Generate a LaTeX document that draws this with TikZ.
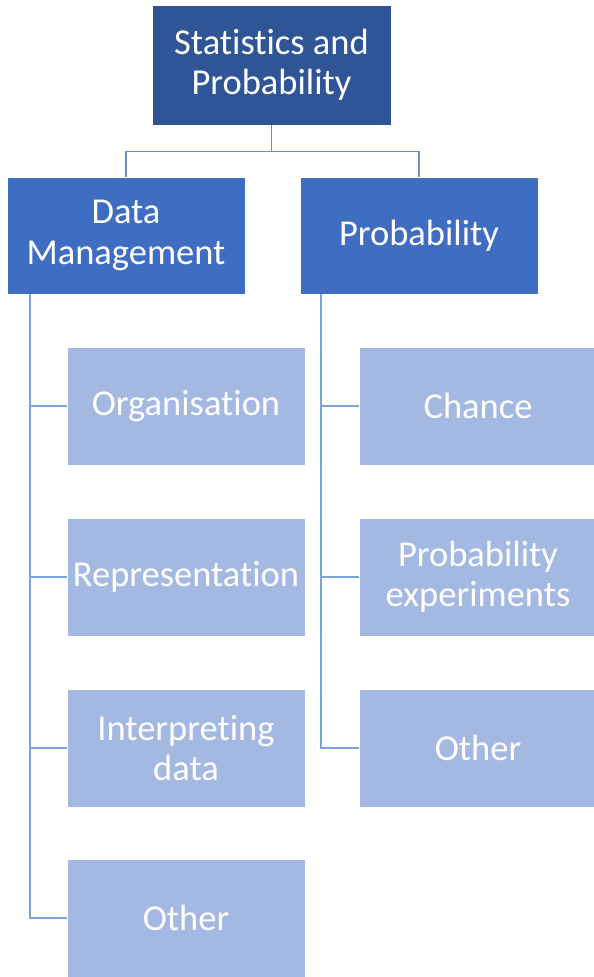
\documentclass[tikz,border=0pt]{standalone}
\usepackage{fontspec}
\setmainfont{Carlito}[Ligatures=NoCommon]
\definecolor{topblue}{HTML}{2F5597}
\definecolor{midblue}{HTML}{3F6DC1}
\definecolor{leafblue}{HTML}{A3B9E1}
\definecolor{linetop}{HTML}{6A90BE}
\definecolor{lineleaf}{HTML}{7BA5D6}
\begin{document}
\begin{tikzpicture}[x=1pt,y=-1pt,
  box/.style={rectangle, draw=white, line width=0.8pt, text=white, inner sep=0pt,
    minimum width=238pt, align=center, font=\fontsize{36.5}{40.5}\selectfont},
  topbox/.style={box, fill=topblue, minimum width=239pt, minimum height=120pt},
  midbox/.style={box, fill=midblue, minimum height=117pt},
  leafbox/.style={box, fill=leafblue, minimum height=118pt},
  conn/.style={line width=1.8pt, draw=linetop},
  leafconn/.style={line width=1.8pt, draw=lineleaf}]
\useasboundingbox (0,0) rectangle (594,977);
\node[topbox] (top) at (271.5,65) {Statistics and\\Probability};
\node[midbox] (dm) at (126,235.5) {Data\\Management};
\node[midbox] (pr) at (419,235.5) {Probability};
\node[leafbox] (l1) at (186,406) {Organisation};
\node[leafbox] (l2) at (186,577) {Representation};
\node[leafbox] (l3) at (186,748) {Interpreting\\data};
\node[leafbox] (l4) at (186,918) {Other};
\node[leafbox] (r1) at (478,406) {Chance};
\node[leafbox] (r2) at (478,577) {Probability\\experiments};
\node[leafbox] (r3) at (478,748) {Other};
\coordinate (mid) at ([yshift=-26pt]top.south);
\draw[conn] (top.south) -- (mid) -| (dm.north);
\draw[conn] (mid) -| (pr.north);
\coordinate (dmr) at ([xshift=23.5pt]dm.south west);
\coordinate (prr) at ([xshift=21pt]pr.south west);
\draw[leafconn] (dmr) |- (l1.west);
\draw[leafconn] (dmr) |- (l2.west);
\draw[leafconn] (dmr) |- (l3.west);
\draw[leafconn] (dmr) |- (l4.west);
\draw[leafconn] (prr) |- (r1.west);
\draw[leafconn] (prr) |- (r2.west);
\draw[leafconn] (prr) |- (r3.west);
\end{tikzpicture}
\end{document}
